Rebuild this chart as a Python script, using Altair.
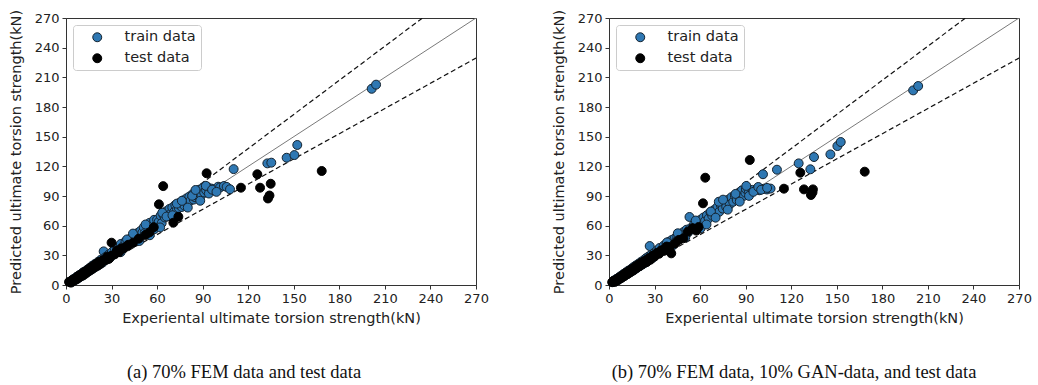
import altair as alt
import pandas as pd

# ---- panel (a): 70% FEM data and test data ----
a_train_x = [2.8, 4.1, 5.0, 6.3, 7.1, 8.2, 9.0, 10.4, 11.2, 12.0, 13.5, 14.1, 15.3, 16.0, 17.2, 18.1, 19.0, 20.3,
             21.1, 22.4, 23.0, 24.2, 24.8, 25.9, 27.0, 28.1, 29.0, 30.2, 31.0, 32.1, 33.4, 34.0, 35.2, 36.1, 37.3,
             38.0, 39.2, 40.1, 41.3, 42.0, 43.1, 44.5, 45.2, 46.0, 47.4, 48.1, 49.0, 50.3, 51.2, 52.0, 53.1, 54.3,
             55.0, 56.2, 57.1, 58.0, 59.2, 60.0, 61.1, 62.3, 63.0, 64.2, 65.1, 66.0, 67.2, 68.1, 69.3, 70.0, 71.2,
             72.0, 73.1, 74.3, 75.0, 76.2, 77.1, 78.0, 79.3, 80.1, 81.2, 82.0, 83.3, 84.1, 85.0, 86.2, 87.1, 88.0,
             89.2, 90.1, 91.0, 92.3, 93.2, 94.1, 95.8, 98.0, 100.2, 101.4, 104.0, 105.8, 108.0, 110.4, 132.6, 135.2,
             145.3, 150.4, 152.3, 201.3, 204.2,
             36.0, 40.2, 44.1, 48.3, 52.4, 55.2, 58.1, 62.0, 63.4, 66.2, 70.1, 73.0, 76.3, 80.2, 83.1, 85.3,
             88.4, 92.1, 96.2, 99.1]
a_train_y = [3.5, 3.2, 6.1, 5.2, 8.4, 7.0, 10.3, 9.1, 12.8, 11.0, 14.9, 12.9, 17.0, 14.8, 19.4, 16.9, 21.2, 19.0,
             23.4, 21.0, 25.6, 22.8, 34.0, 28.1, 25.9, 30.8, 27.6, 33.1, 30.5, 36.8, 34.0, 38.0, 35.0, 41.5, 38.2,
             39.5, 44.0, 40.5, 45.8, 43.1, 47.9, 45.0, 50.5, 48.2, 52.8, 47.9, 54.6, 53.0, 58.3, 52.8, 60.5, 56.2,
             62.8, 59.0, 61.5, 65.9, 60.2, 66.1, 64.0, 70.2, 62.5, 71.0, 68.3, 74.5, 69.8, 76.9, 72.5, 78.3, 73.9,
             81.0, 76.4, 77.8, 83.2, 78.9, 85.5, 80.3, 87.6, 83.0, 89.4, 85.3, 91.8, 86.4, 88.7, 94.0, 89.5, 96.5,
             91.0, 98.2, 93.6, 95.8, 99.0, 92.5, 97.5, 95.3, 99.4, 98.6, 100.1, 99.2, 96.8, 117.2, 123.0, 123.7,
             128.7, 131.4, 141.6, 198.4, 202.6,
             33.2, 46.1, 52.0, 44.5, 61.2, 50.3, 56.4, 58.2, 73.1, 69.2, 70.5, 82.3, 85.1, 78.3, 90.2, 96.1,
             85.2, 100.3, 96.4, 94.2]
a_test_x = [2.0, 3.2, 4.0, 5.1, 6.0, 7.2, 8.0, 9.1, 10.0, 11.3, 12.1, 13.0, 14.2, 15.0, 16.1, 17.0, 18.3, 19.1,
            20.0, 21.2, 22.0, 23.1, 24.3, 26.0, 27.1, 28.2, 29.9, 30.0, 32.1, 33.5, 35.0, 36.3, 38.0, 40.1, 41.0,
            44.0, 47.9, 52.3, 55.0, 57.8, 61.2, 64.0, 70.7, 74.0, 92.6, 115.2, 126.0, 127.8, 133.0, 134.0, 134.8,
            168.4]
a_test_y = [3.1, 2.4, 5.0, 4.2, 6.6, 5.9, 9.1, 8.0, 10.8, 9.7, 13.2, 11.6, 15.3, 13.9, 17.4, 15.8, 19.6, 18.0,
            21.5, 19.8, 23.6, 22.0, 25.0, 25.2, 28.7, 26.4, 29.5, 42.8, 31.0, 34.8, 33.2, 36.9, 37.1, 39.0, 40.7,
            42.5, 46.8, 50.6, 53.2, 58.4, 81.6, 100.0, 63.0, 69.0, 113.0, 98.4, 112.0, 98.4, 87.5, 90.5, 102.4,
            115.3]

# ---- panel (b): 70% FEM data, 10% GAN-data, and test data ----
b_train_x = [2.5, 3.4, 4.2, 5.0, 5.8, 6.6, 7.3, 8.1, 8.9, 9.6, 10.5, 11.3, 12.0, 12.8, 13.6, 14.5, 15.2, 16.0,
             16.9, 17.7, 18.5, 19.4, 20.2, 21.0, 21.9, 22.7, 23.5, 24.4, 25.3, 26.8, 26.1, 27.0, 27.9, 28.8, 29.7,
             30.6, 31.5, 32.4, 33.3, 34.2, 35.1, 36.0, 36.9, 37.8, 38.7, 39.6, 40.5, 41.4, 42.3, 43.2, 44.1, 45.0,
             46.0, 47.0, 48.0, 49.0, 50.0, 51.0, 52.0, 53.0, 53.5, 55.0, 56.0, 57.0, 58.0, 59.0, 60.0, 61.0, 62.2,
             63.3, 64.5, 65.6, 66.8, 68.0, 69.1, 70.3, 71.4, 72.6, 73.7, 74.9, 76.0, 77.2, 78.3, 79.5, 80.6, 81.8,
             82.9, 84.1, 85.2, 86.4, 87.5, 88.7, 89.8, 90.2, 92.0, 94.5, 97.5, 99.0, 101.4, 101.8, 104.0, 106.4,
             110.6, 124.9, 132.6, 135.0, 145.8, 150.4, 152.6, 200.3, 203.6,
             38.2, 42.1, 45.3, 50.2, 57.1, 60.3, 64.2, 67.1, 70.2, 72.3, 75.1, 78.2, 83.3, 86.1, 90.4, 92.2,
             95.1, 98.3, 100.2, 104.1]
b_train_y = [3.0, 4.6, 3.5, 6.3, 5.0, 7.8, 6.4, 9.5, 8.0, 11.2, 9.6, 12.9, 11.1, 14.6, 12.5, 16.1, 14.0, 18.0,
             15.7, 19.8, 17.3, 21.5, 19.0, 23.3, 20.6, 25.0, 22.2, 27.1, 24.0, 39.4, 28.9, 25.8, 30.6, 27.5, 32.4,
             31.9, 34.8, 33.0, 37.4, 35.1, 36.2, 39.8, 37.5, 41.9, 40.0, 43.8, 41.2, 45.6, 43.5, 47.0, 44.6, 49.3,
             47.1, 51.8, 48.4, 53.5, 51.6, 55.9, 53.0, 68.8, 57.2, 56.5, 61.4, 58.3, 63.7, 60.1, 65.8, 63.0, 68.3,
             64.9, 70.6, 67.2, 73.5, 70.1, 75.8, 72.4, 78.9, 74.0, 80.6, 77.3, 83.5, 79.0, 86.1, 81.4, 88.8, 84.2,
             90.5, 86.0, 92.9, 88.3, 95.6, 90.1, 93.4, 97.0, 95.5, 96.2, 97.1, 95.8, 112.0, 97.3, 96.6, 97.5,
             116.6, 123.0, 117.0, 129.4, 132.1, 140.5, 144.6, 196.8, 201.2,
             43.1, 40.2, 52.3, 48.1, 65.2, 57.3, 61.2, 74.3, 68.1, 84.2, 86.3, 76.2, 92.1, 84.3, 100.2, 90.1,
             94.2, 99.1, 96.3, 98.2]
b_test_x = [2.1, 3.0, 4.1, 5.2, 6.1, 7.0, 8.3, 9.2, 10.1, 11.0, 12.2, 13.1, 14.0, 15.2, 16.1, 17.3, 18.0, 19.2,
            20.1, 21.3, 22.0, 23.4, 24.8, 26.0, 27.3, 28.6, 30.0, 31.5, 33.0, 34.8, 36.2, 38.0, 40.0, 41.0, 43.5,
            46.0, 49.0, 52.0, 55.0, 57.5, 59.0, 61.9, 63.4, 92.7, 115.2, 126.0, 128.4, 133.0, 134.3, 134.0, 168.4]
b_test_y = [2.8, 4.3, 3.3, 6.0, 5.1, 7.9, 7.2, 10.1, 9.0, 12.1, 11.0, 14.2, 12.9, 16.3, 14.8, 18.6, 17.1, 20.4,
            19.0, 22.6, 21.2, 24.3, 23.1, 27.0, 25.6, 29.5, 28.8, 32.4, 31.6, 35.2, 34.5, 38.9, 38.2, 32.0, 42.0,
            45.6, 47.3, 54.0, 57.5, 55.0, 58.6, 82.6, 108.5, 126.4, 97.4, 113.6, 96.7, 91.0, 96.7, 93.5, 114.6]

# reference lines y = k * x (perfect fit and +/-15 % bands)
slopes = [1.0, 1.15, 0.85]
tick_values = list(range(0, 271, 30))
series = ["train data", "test data"]
fill_colors = ["#2f78b3", "#000000"]
edge_colors = ["#15232f", "#000000"]

W, H = 410, 267
AX_MAX = 270


def panel(tx, ty, sx, sy, caption, caption_dx):
    pts = pd.DataFrame({
        "exp": list(tx) + list(sx),
        "pred": list(ty) + list(sy),
        "set": [series[0]] * len(tx) + [series[1]] * len(sx),
    })
    xs = alt.Scale(domain=[0, AX_MAX], nice=False)
    ys = alt.Scale(domain=[0, AX_MAX], nice=False)
    xaxis = alt.Axis(values=tick_values, title="Experiental ultimate torsion strength(kN)", grid=False,
                     labelFlush=False, labelOverlap=False, titlePadding=6)
    yaxis = alt.Axis(values=tick_values, title="Predicted ultimate torsion strength(kN)", grid=False,
                     labelOverlap=False, titlePadding=11)

    lines = []
    for k in slopes:
        ldf = pd.DataFrame({"exp": [0, AX_MAX], "pred": [0, AX_MAX * k]})
        if k == 1.0:
            mk = alt.Chart(ldf).mark_line(clip=True, color="#7a7a7a", strokeWidth=1)
        else:
            mk = alt.Chart(ldf).mark_line(clip=True, color="#111111", strokeWidth=1.2,
                                          strokeDash=[5, 3])
        lines.append(mk.encode(x=alt.X("exp:Q", scale=xs, axis=xaxis),
                               y=alt.Y("pred:Q", scale=ys, axis=yaxis)))

    dots = alt.Chart(pts).mark_point(filled=True, shape="circle", size=80, opacity=1,
                                     strokeWidth=1).encode(
        x=alt.X("exp:Q", scale=xs, axis=xaxis),
        y=alt.Y("pred:Q", scale=ys, axis=yaxis),
        color=alt.Color("set:N", scale=alt.Scale(domain=series, range=fill_colors),
                        legend=alt.Legend(title=None, orient="top-left", offset=7)),
        stroke=alt.Stroke("set:N", scale=alt.Scale(domain=series, range=edge_colors), legend=None),
    )
    return alt.layer(*lines, dots).properties(
        width=W, height=H,
        title=alt.TitleParams(text=caption, orient="bottom", anchor="middle", frame="group",
                              dx=caption_dx, offset=38, font="Liberation Serif", fontSize=18.5,
                              fontWeight="normal", color="#111111"),
    ).resolve_scale(color="independent", stroke="independent")


left = panel(a_train_x, a_train_y, a_test_x, a_test_y, "(a) 70% FEM data and test data", -27)
right = panel(b_train_x, b_train_y, b_test_x, b_test_y,
              "(b) 70% FEM data, 10% GAN-data, and test data", -20)

chart = alt.hconcat(left, right, spacing=61).resolve_scale(
    color="independent", stroke="independent"
).properties(
    padding={"left": 7, "top": 8, "right": 5, "bottom": 0},
    background="white",
).configure_view(
    stroke="#333333", strokeWidth=1
).configure_axis(
    labelFont="DejaVu Sans", titleFont="DejaVu Sans", labelFontSize=13, titleFontSize=14.5,
    titleFontWeight="normal", labelColor="#222222", titleColor="#222222",
    domainColor="#333333", tickColor="#333333", tickSize=4, labelPadding=3,
).configure_legend(
    labelFont="DejaVu Sans", labelFontSize=14.5, labelColor="#222222",
    strokeColor="#cccccc", fillColor="white", cornerRadius=3, padding=5,
    symbolSize=80, symbolOffset=12, labelOffset=20, rowPadding=6,
    symbolStrokeWidth=1, symbolStrokeColor="#15232f",
)

chart.save("out.html", embed_options={"renderer": "svg", "actions": False})
